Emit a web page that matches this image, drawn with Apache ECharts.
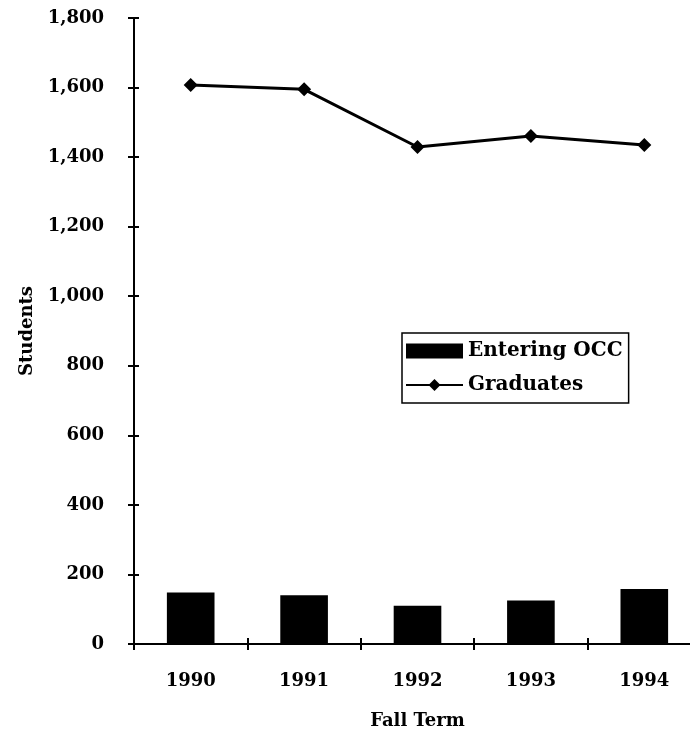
<!DOCTYPE html>
<html>
<head>
<meta charset="utf-8">
<script src="https://cdn.jsdelivr.net/npm/echarts@6/dist/echarts.min.js"></script>
<style>
  html, body { margin: 0; padding: 0; background: #fff; }
  #chart { width: 690px; height: 732px; }
</style>
</head>
<body>
<div id="chart"></div>
<script>
var years = ['1990', '1991', '1992', '1993', '1994']
var entering = [148, 140, 110, 125, 158]
var graduates = [1607, 1595, 1429, 1461, 1435]
var yMin = 0
var yMax = 1800
var yStep = 200

var font = 'DejaVu Serif'
var chart = echarts.init(document.getElementById('chart'))

chart.setOption({
  animation: false,
  backgroundColor: '#fff',
  grid: {
    left: 134,
    top: 18,
    bottom: 88,
    width: 567,
    outerBoundsMode: 'none'
  },
  legend: {
    left: 402,
    top: 333,
    orient: 'vertical',
    backgroundColor: '#fff',
    borderColor: '#000',
    borderWidth: 1.5,
    borderRadius: 0,
    padding: [8, 6, 8, 3],
    itemGap: 14,
    itemWidth: 57,
    itemHeight: 15,
    textStyle: { fontFamily: font, fontWeight: 'bold', fontSize: 20, color: '#000' },
    data: [
      { name: 'Entering OCC', icon: 'rect' },
      { name: 'Graduates' }
    ]
  },
  xAxis: [
    {
      type: 'category',
      data: years,
      name: 'Fall Term',
      nameLocation: 'middle',
      nameGap: 68,
      nameTextStyle: { fontFamily: font, fontWeight: 'bold', fontSize: 18, color: '#000' },
      axisLine: { lineStyle: { color: '#000', width: 2 } },
      axisTick: { show: true, length: 6, lineStyle: { color: '#000', width: 2 } },
      axisLabel: { margin: 28, fontFamily: font, fontWeight: 'bold', fontSize: 18, color: '#000' }
    },
    {
      // inner half of the crossing ticks
      type: 'category',
      data: years,
      position: 'bottom',
      axisLine: { show: false },
      axisTick: { show: true, inside: true, length: 6, lineStyle: { color: '#000', width: 2 } },
      axisLabel: { show: false }
    }
  ],
  yAxis: [
    {
      type: 'value',
      min: yMin,
      max: yMax,
      interval: yStep,
      name: 'Students',
      nameLocation: 'middle',
      nameGap: 96,
      nameTextStyle: { fontFamily: font, fontWeight: 'bold', fontSize: 18, color: '#000' },
      axisLine: { show: true, lineStyle: { color: '#000', width: 2 } },
      axisTick: { show: true, length: 6, lineStyle: { color: '#000', width: 2 } },
      splitLine: { show: false },
      axisLabel: {
        margin: 30,
        fontFamily: font,
        fontWeight: 'bold',
        fontSize: 18,
        color: '#000',
        formatter: function (v) { return v.toLocaleString('en-US') }
      }
    },
    {
      type: 'value',
      min: yMin,
      max: yMax,
      interval: yStep,
      position: 'left',
      axisLine: { show: false },
      axisTick: { show: true, inside: true, length: 5, lineStyle: { color: '#000', width: 2 } },
      splitLine: { show: false },
      axisLabel: { show: false }
    }
  ],
  series: [
    {
      name: 'Entering OCC',
      type: 'bar',
      data: entering,
      barWidth: '42%',
      itemStyle: { color: '#000' }
    },
    {
      name: 'Graduates',
      type: 'line',
      data: graduates,
      symbol: 'diamond',
      symbolSize: 14,
      itemStyle: { color: '#000' },
      lineStyle: { color: '#000', width: 3 }
    }
  ]
})
</script>
</body>
</html>
